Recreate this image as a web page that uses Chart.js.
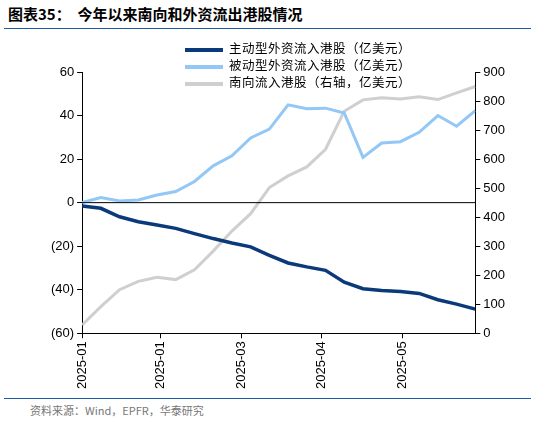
<!DOCTYPE html>
<html><head><meta charset="utf-8">
<script src="https://cdn.jsdelivr.net/npm/chart.js@4"></script>
<style>
body{margin:0;width:535px;height:424px;background:#fff;font-family:"Noto Sans CJK SC","Liberation Sans",sans-serif;position:relative;overflow:hidden}
.title{position:absolute;left:8px;top:3px;font-size:15px;font-weight:bold;color:#000}
.tline{position:absolute;left:4px;right:4px;top:28px;border-top:1.5px solid #1f5aa6}
.src{position:absolute;left:30px;top:402px;font-size:11px;color:#777}
.sline{position:absolute;left:4px;right:4px;top:398px;border-top:1px solid #1f5aa6}
.legend{position:absolute;left:185px;top:39px;font-size:12.5px;line-height:17px;color:#000;letter-spacing:0.5px}
.legend span{display:inline-block;width:38px;height:4px;vertical-align:middle;margin-right:6px}
#wrap{position:absolute;left:0;top:52px;width:535px;height:340px}
</style></head><body>
<div class="title">图表35：&nbsp;&nbsp;今年以来南向和外资流出港股情况</div>
<div class="tline"></div>
<div id="wrap"><canvas id="c"></canvas></div>
<div class="legend">
<div><span style="background:#0b3a7a"></span>主动型外资流入港股（亿美元）</div>
<div><span style="background:#92c7f6"></span>被动型外资流入港股（亿美元）</div>
<div><span style="background:#cfcfcf"></span>南向流入港股（右轴，亿美元）</div>
</div>
<div class="sline"></div>
<div class="src">资料来源：Wind，EPFR，华泰研究</div>
<script>
const xTickPos = [0, 4.2, 8.5, 12.8, 17.1];
const xTickLabels = ['2025-01', '2025-01', '2025-03', '2025-04', '2025-05'];
const activeFlow = [-1.5, -2.6, -6.5, -8.8, -10.3, -11.8, -14.2, -16.5, -18.5, -20.3, -24.2, -27.7, -29.5, -31.1, -36.5, -39.5, -40.3, -40.8, -41.7, -44.6, -46.6, -48.9];
const passiveFlow = [0, 2.3, 0.8, 1.2, 3.5, 5.1, 9.7, 16.9, 21.5, 29.7, 33.8, 44.9, 43.1, 43.4, 41.2, 20.8, 27.4, 28, 32.3, 40, 35.1, 42.3];
const southbound = [29, 92, 150, 179, 193, 185, 219, 283, 352, 412, 502, 542, 573, 634, 765, 804, 811, 807, 815, 805, 828, 850];

const pts = a => a.map((v, i) => ({x: i, y: v}));
const font = {family: '"Liberation Sans", sans-serif', size: 13};

new Chart(document.getElementById('c'), {
  type: 'line',
  data: {
    datasets: [
      {label: 'south', data: pts(southbound), yAxisID: 'y1', borderColor: '#cfcfcf', borderWidth: 3, pointRadius: 0, tension: 0, order: 3},
      {label: 'passive', data: pts(passiveFlow), yAxisID: 'y', borderColor: '#92c7f6', borderWidth: 3, pointRadius: 0, tension: 0, order: 2},
      {label: 'active', data: pts(activeFlow), yAxisID: 'y', borderColor: '#0b3a7a', borderWidth: 3.5, pointRadius: 0, tension: 0, order: 1}
    ]
  },
  options: {
    animation: false, responsive: true, maintainAspectRatio: false,
    layout: {padding: {left: 48, right: 27, top: 20, bottom: 0}},
    plugins: {legend: {display: false}, tooltip: {enabled: false}},
    scales: {
      x: {
        type: 'linear', min: 0, max: 21,
        afterBuildTicks: s => { s.ticks = xTickPos.map(v => ({value: v})); },
        ticks: {font: font, color: '#000', maxRotation: 90, minRotation: 90, autoSkip: false,
          callback: (v, i) => xTickLabels[i]},
        grid: {display: true, drawOnChartArea: false, color: '#000', tickLength: 5},
        border: {color: '#000'}
      },
      y: {
        position: 'left', min: -60, max: 60,
        ticks: {stepSize: 20, font: font, color: '#000', callback: v => v < 0 ? '(' + (-v) + ')' : v},
        grid: {drawOnChartArea: false, color: '#000', tickLength: 5},
        border: {color: '#000'}
      },
      y1: {
        position: 'right', min: 0, max: 900,
        ticks: {stepSize: 100, font: font, color: '#000'},
        grid: {drawOnChartArea: false, color: '#000', tickLength: 5},
        border: {color: '#000'}
      }
    }
  },
  plugins: [{
    id: 'zeroLine',
    afterDatasetsDraw(chart) {
      const {ctx, chartArea, scales} = chart;
      const y0 = scales.y.getPixelForValue(0);
      ctx.save(); ctx.strokeStyle = '#000'; ctx.lineWidth = 1;
      ctx.beginPath(); ctx.moveTo(chartArea.left, y0); ctx.lineTo(chartArea.right, y0); ctx.stroke();
      ctx.restore();
    }
  }]
});
</script>
</body></html>
